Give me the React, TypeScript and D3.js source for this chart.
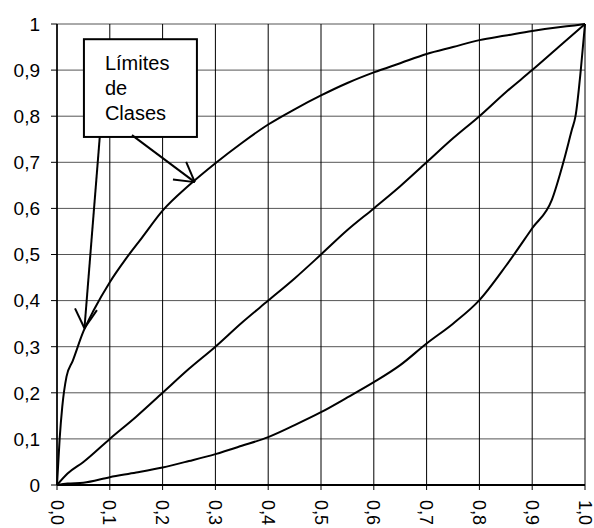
import { useEffect, useRef } from 'react';
import * as d3 from 'd3';

// Upper class limit curve
const upperX = [0, 0.005, 0.01, 0.018, 0.03, 0.05, 0.07, 0.1, 0.13, 0.16, 0.2, 0.25, 0.3, 0.35, 0.4, 0.45, 0.5, 0.55, 0.6, 0.65, 0.7, 0.75, 0.8, 0.85, 0.9, 0.95, 0.98, 1];
const upperY = [0, 0.1, 0.17, 0.235, 0.27, 0.333, 0.38, 0.44, 0.49, 0.535, 0.595, 0.65, 0.698, 0.742, 0.782, 0.815, 0.845, 0.872, 0.895, 0.915, 0.935, 0.95, 0.965, 0.975, 0.985, 0.993, 0.997, 1];

// Middle (equality) curve
const middleX = [0, 0.02, 0.05, 0.1, 0.15, 0.2, 0.25, 0.3, 0.35, 0.4, 0.45, 0.5, 0.55, 0.6, 0.65, 0.7, 0.75, 0.8, 0.85, 0.9, 0.95, 0.975, 1];
const middleY = [0, 0.025, 0.05, 0.1, 0.148, 0.2, 0.252, 0.3, 0.352, 0.4, 0.448, 0.5, 0.553, 0.6, 0.648, 0.7, 0.752, 0.8, 0.852, 0.9, 0.95, 0.975, 1];

// Lower class limit curve
const lowerX = [0, 0.02, 0.05, 0.1, 0.15, 0.2, 0.25, 0.3, 0.35, 0.4, 0.45, 0.5, 0.55, 0.6, 0.65, 0.7, 0.75, 0.8, 0.85, 0.9, 0.937, 0.959, 0.975, 0.982, 0.992, 1];
const lowerY = [0, 0.003, 0.005, 0.017, 0.027, 0.038, 0.052, 0.067, 0.085, 0.104, 0.13, 0.158, 0.19, 0.223, 0.26, 0.307, 0.35, 0.401, 0.475, 0.557, 0.618, 0.7, 0.77, 0.8, 0.9, 1];

const xTicks = [0, 0.1, 0.2, 0.3, 0.4, 0.5, 0.6, 0.7, 0.8, 0.9, 1];
const xTickLabels = ['0,0', '0,1', '0,2', '0,3', '0,4', '0,5', '0,6', '0,7', '0,8', '0,9', '1,0'];
const yTicks = [0, 0.1, 0.2, 0.3, 0.4, 0.5, 0.6, 0.7, 0.8, 0.9, 1];
const yTickLabels = ['0', '0,1', '0,2', '0,3', '0,4', '0,5', '0,6', '0,7', '0,8', '0,9', '1'];

// Annotation box (data units) and its arrows
const boxLines = ['Límites', 'de', 'Clases'];
const boxExtent = { x0: 0.051, x1: 0.265, y0: 0.755, y1: 0.967 };
const arrows = [
  { from: [0.081, 0.755], to: [0.052, 0.34] },
  { from: [0.142, 0.759], to: [0.261, 0.657] },
];

export default function App() {
  const svgRef = useRef<SVGSVGElement | null>(null);

  useEffect(() => {
    if (!svgRef.current) return;
    const svg = d3.select(svgRef.current);
    svg.selectAll('*').remove();

    const margin = { top: 24, right: 9, bottom: 43, left: 57 };
    const width = 594 - margin.left - margin.right;
    const height = 528 - margin.top - margin.bottom;
    const font = 'Arial, "Liberation Sans", sans-serif';

    const x = d3.scaleLinear().domain([0, 1]).range([0, width]);
    const y = d3.scaleLinear().domain([0, 1]).range([height, 0]);

    const g = svg.append('g').attr('transform', `translate(${margin.left},${margin.top})`);

    // horizontal grid
    g.selectAll('.hgrid')
      .data(yTicks)
      .enter()
      .append('line')
      .attr('x1', 0)
      .attr('x2', width)
      .attr('y1', d => y(d))
      .attr('y2', d => y(d))
      .attr('stroke', '#555')
      .attr('stroke-width', 1);

    // vertical grid
    g.selectAll('.vgrid')
      .data(xTicks)
      .enter()
      .append('line')
      .attr('x1', d => x(d))
      .attr('x2', d => x(d))
      .attr('y1', 0)
      .attr('y2', height)
      .attr('stroke', '#000')
      .attr('stroke-width', 1);

    // axes
    g.append('line')
      .attr('x1', 0).attr('x2', width)
      .attr('y1', height).attr('y2', height)
      .attr('stroke', '#000').attr('stroke-width', 2);
    g.append('line')
      .attr('x1', 0).attr('x2', 0)
      .attr('y1', 0).attr('y2', height)
      .attr('stroke', '#000').attr('stroke-width', 1.5);

    // y ticks + labels
    g.selectAll('.ytick')
      .data(yTicks)
      .enter()
      .append('line')
      .attr('x1', -6).attr('x2', 0)
      .attr('y1', d => y(d)).attr('y2', d => y(d))
      .attr('stroke', '#000');
    g.selectAll('.ylab')
      .data(yTicks)
      .enter()
      .append('text')
      .attr('x', -17)
      .attr('y', d => y(d))
      .attr('dy', '0.36em')
      .attr('text-anchor', 'end')
      .attr('font-family', font)
      .attr('font-size', 19)
      .attr('fill', '#000')
      .text((d, i) => yTickLabels[i]);

    // x ticks + rotated labels
    g.selectAll('.xtick')
      .data(xTicks)
      .enter()
      .append('line')
      .attr('x1', d => x(d)).attr('x2', d => x(d))
      .attr('y1', height).attr('y2', height + 5)
      .attr('stroke', '#000');
    g.selectAll('.xlab')
      .data(xTicks)
      .enter()
      .append('text')
      .attr('transform', d => `translate(${x(d)},${height + 15}) rotate(90)`)
      .attr('dy', '0.36em')
      .attr('text-anchor', 'start')
      .attr('font-family', font)
      .attr('font-size', 18)
      .attr('fill', '#000')
      .text((d, i) => xTickLabels[i]);

    // curves
    const line = d3.line<[number, number]>()
      .x(d => x(d[0]))
      .y(d => y(d[1]))
      .curve(d3.curveMonotoneX);
    const series: [number[], number[]][] = [
      [upperX, upperY],
      [middleX, middleY],
      [lowerX, lowerY],
    ];
    series.forEach(([xs, ys]) => {
      g.append('path')
        .datum(xs.map((v, i) => [v, ys[i]] as [number, number]))
        .attr('fill', 'none')
        .attr('stroke', '#000')
        .attr('stroke-width', 2)
        .attr('stroke-linejoin', 'round')
        .attr('d', line);
    });

    // annotation box
    g.append('rect')
      .attr('x', x(boxExtent.x0))
      .attr('y', y(boxExtent.y1))
      .attr('width', x(boxExtent.x1) - x(boxExtent.x0))
      .attr('height', y(boxExtent.y0) - y(boxExtent.y1))
      .attr('fill', '#fff')
      .attr('stroke', '#000')
      .attr('stroke-width', 2);
    g.selectAll('.boxtext')
      .data(boxLines)
      .enter()
      .append('text')
      .attr('x', x(boxExtent.x0) + 21)
      .attr('y', (d, i) => y(boxExtent.y1) + 31 + i * 25)
      .attr('font-family', font)
      .attr('font-size', 20)
      .attr('fill', '#000')
      .text(d => d);

    // arrows
    arrows.forEach(a => {
      const x1 = x(a.from[0]), y1 = y(a.from[1]);
      const x2 = x(a.to[0]), y2 = y(a.to[1]);
      g.append('line')
        .attr('x1', x1).attr('y1', y1)
        .attr('x2', x2).attr('y2', y2)
        .attr('stroke', '#000').attr('stroke-width', 2);
      const back = Math.atan2(y1 - y2, x1 - x2);
      [-Math.PI / 6, Math.PI / 6].forEach(off => {
        g.append('line')
          .attr('x1', x2).attr('y1', y2)
          .attr('x2', x2 + 22 * Math.cos(back + off))
          .attr('y2', y2 + 22 * Math.sin(back + off))
          .attr('stroke', '#000').attr('stroke-width', 2);
      });
    });
  }, []);

  return (
    <svg
      ref={svgRef}
      width={594}
      height={528}
      style={{ position: 'absolute', left: 0, top: 0, background: '#fff' }}
    />
  );
}
